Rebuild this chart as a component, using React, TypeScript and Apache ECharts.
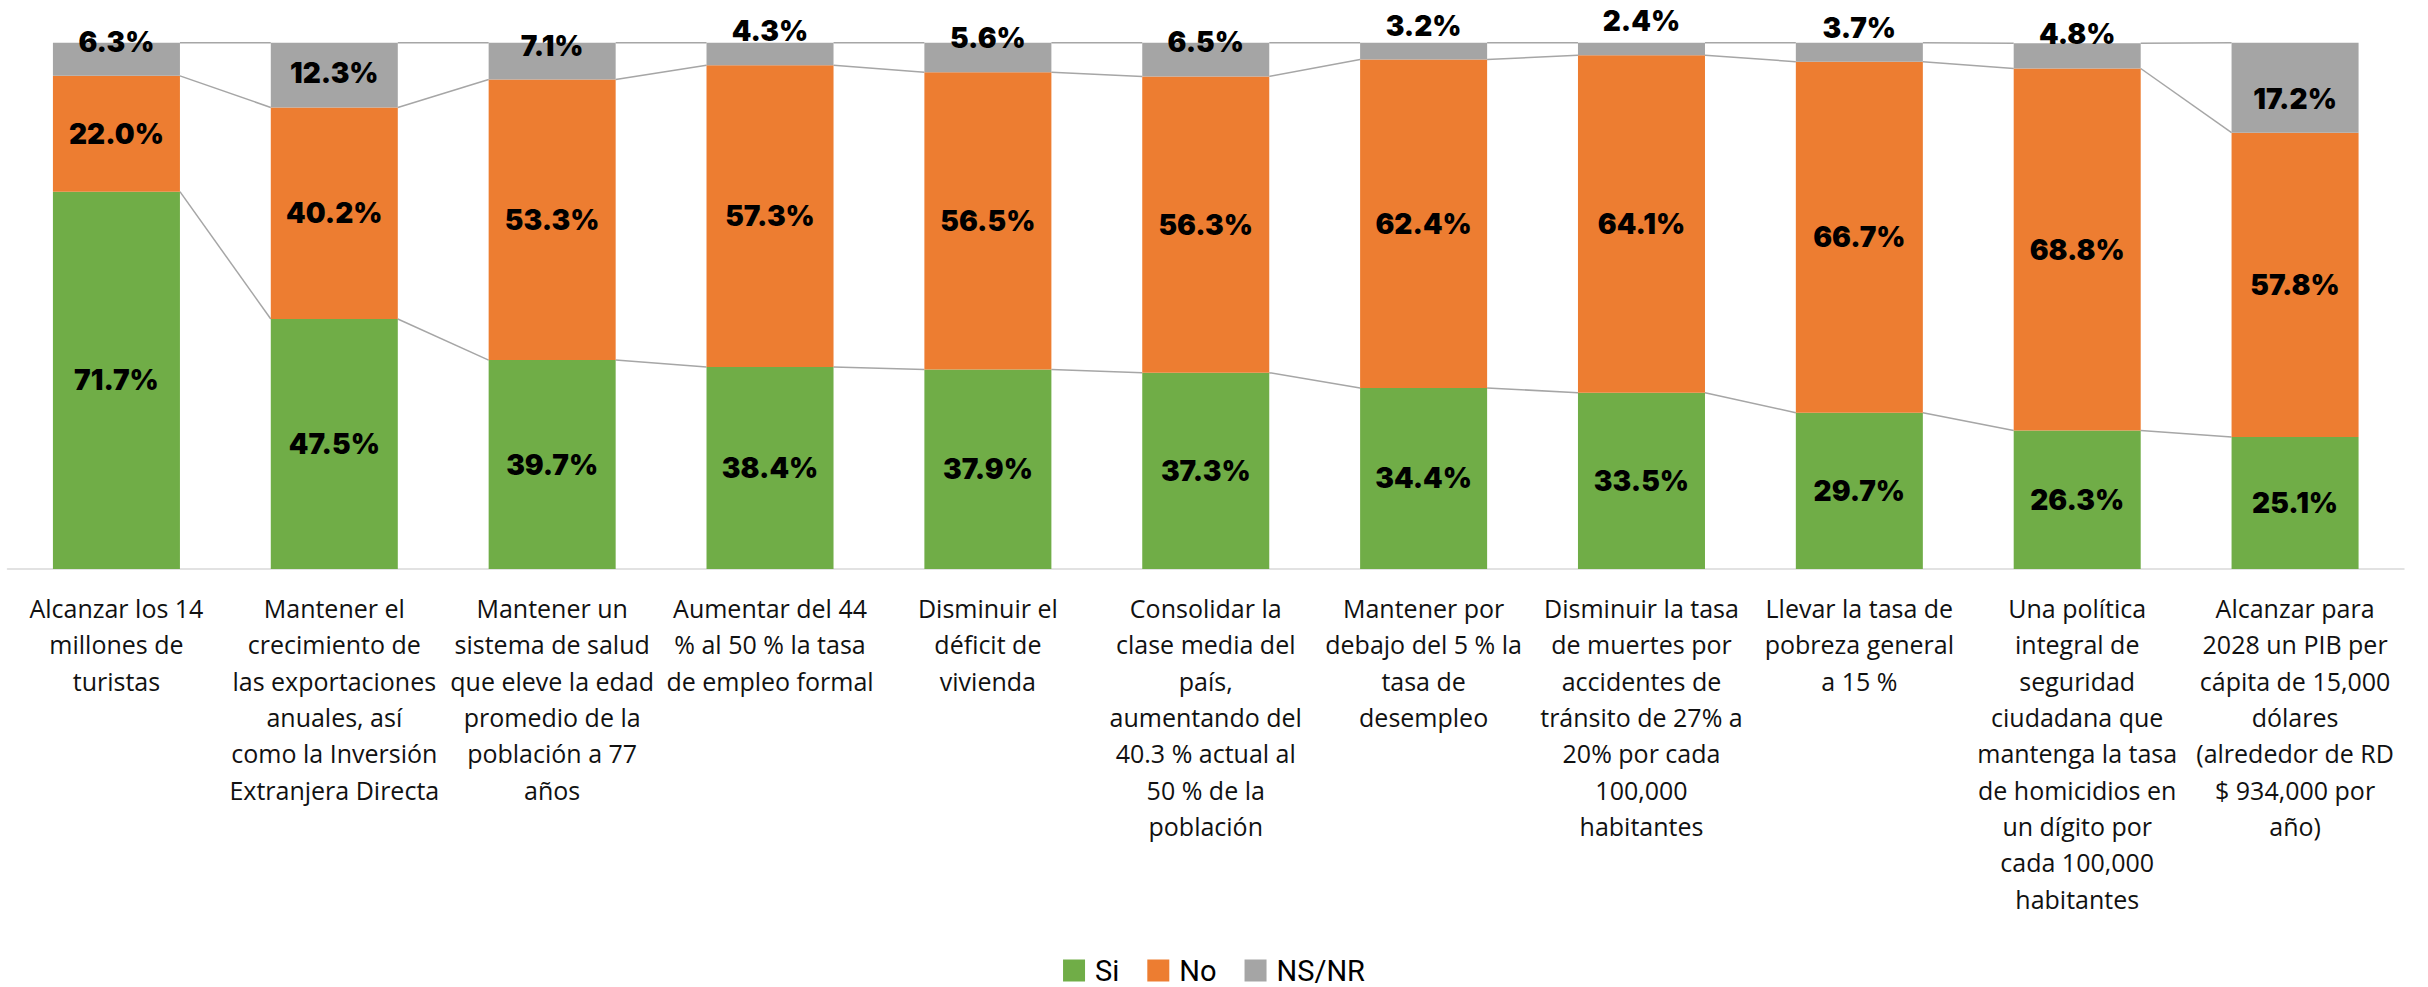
import React, { useEffect, useRef } from "react";
import * as echarts from "echarts";

const categories: string[] = [
  "Alcanzar los 14\nmillones de\nturistas",
  "Mantener el\ncrecimiento de\nlas exportaciones\nanuales, así\ncomo la Inversión\nExtranjera Directa",
  "Mantener un\nsistema de salud\nque eleve la edad\npromedio de la\npoblación a 77\naños",
  "Aumentar del 44\n% al 50 % la tasa\nde empleo formal",
  "Disminuir el\ndéficit de\nvivienda",
  "Consolidar la\nclase media del\npaís,\naumentando del\n40.3 % actual al\n50 % de la\npoblación",
  "Mantener por\ndebajo del 5 % la\ntasa de\ndesempleo",
  "Disminuir la tasa\nde muertes por\naccidentes de\ntránsito de 27% a\n20% por cada\n100,000\nhabitantes",
  "Llevar la tasa de\npobreza general\na 15 %",
  "Una política\nintegral de\nseguridad\nciudadana que\nmantenga la tasa\nde homicidios en\nun dígito por\ncada 100,000\nhabitantes",
  "Alcanzar para\n2028 un PIB per\ncápita de 15,000\ndólares\n(alrededor de RD\n$ 934,000 por\naño)",
];

const si: number[] = [71.7, 47.5, 39.7, 38.4, 37.9, 37.3, 34.4, 33.5, 29.7, 26.3, 25.1];
const no: number[] = [22.0, 40.2, 53.3, 57.3, 56.5, 56.3, 62.4, 64.1, 66.7, 68.8, 57.8];
const nsnr: number[] = [6.3, 12.3, 7.1, 4.3, 5.6, 6.5, 3.2, 2.4, 3.7, 4.8, 17.2];

const seriesNames: string[] = ["Si", "No", "NS/NR"];

const BAR_FRAC = 0.583;

export default function App() {
  const ref = useRef<HTMLDivElement>(null);

  useEffect(() => {
    document.body.style.margin = "0";
    if (!ref.current) return;
    const chart = echarts.init(ref.current, null, { renderer: "svg" });

    const connData: number[][] = [];
    for (let i = 0; i < categories.length - 1; i++) {
      connData.push([
        i,
        si[i],
        si[i] + no[i],
        Math.min(100, si[i] + no[i] + nsnr[i]),
        si[i + 1],
        si[i + 1] + no[i + 1],
        Math.min(100, si[i + 1] + no[i + 1] + nsnr[i + 1]),
      ]);
    }

    const labelFont = {
      fontFamily: "Inter, 'Open Sans', sans-serif",
      fontWeight: 900 as any,
      fontSize: 28,
      color: "#000",
    };

    const fmt = (p: any) => `${Number(p.value).toFixed(1)}%`;

    chart.setOption({
      animation: false,
      grid: { left: 7.5, right: 24, top: 42.7, bottom: 418, containLabel: false },
      legend: {
        data: seriesNames,
        left: "center",
        top: 951,
        icon: "rect",
        itemWidth: 22,
        itemHeight: 22,
        itemGap: 28,
        textStyle: {
          fontFamily: "Roboto, 'Liberation Sans', sans-serif",
          fontSize: 29,
          color: "#000",
          padding: [0, 0, 0, 5],
          lineHeight: 24,
        },
      },
      xAxis: {
        type: "category",
        data: categories,
        axisTick: { show: false },
        axisLine: { show: true, lineStyle: { color: "#d9d9d9", width: 1.5 } },
        axisLabel: {
          interval: 0,
          margin: 21,
          fontFamily: "'Open Sans', Inter, sans-serif",
          fontSize: 25,
          lineHeight: 36.3,
          color: "#111",
          align: "center",
        },
      },
      yAxis: {
        type: "value",
        min: 0,
        max: 100,
        show: false,
        splitLine: { show: false },
      },
      series: [
        {
          name: "Si",
          type: "bar",
          stack: "total",
          barWidth: `${BAR_FRAC * 100}%`,
          data: si,
          itemStyle: { color: "#70AD47" },
          label: { show: true, position: "inside", formatter: fmt, ...labelFont },
        },
        {
          name: "No",
          type: "bar",
          stack: "total",
          data: no,
          itemStyle: { color: "#ED7D31" },
          label: { show: true, position: "inside", formatter: fmt, ...labelFont },
        },
        {
          name: "NS/NR",
          type: "bar",
          stack: "total",
          data: nsnr,
          itemStyle: { color: "#A5A5A5" },
          label: {
            show: true,
            position: "insideBottom",
            distance: 19,
            lineHeight: 30,
            formatter: fmt,
            ...labelFont,
          },
        },
        {
          type: "custom",
          silent: true,
          z: 1,
          data: connData,
          encode: { x: 0, y: 1 },
          renderItem: (params: any, api: any) => {
            const i = api.value(0);
            const half = (api.size([1, 0])[0] * BAR_FRAC) / 2;
            const children: any[] = [];
            for (let k = 1; k <= 3; k++) {
              const a = api.coord([i, api.value(k)]);
              const b = api.coord([i + 1, api.value(k + 3)]);
              children.push({
                type: "line",
                shape: { x1: a[0] + half, y1: a[1], x2: b[0] - half, y2: b[1] },
                style: { stroke: "#a6a6a6", lineWidth: 1.5 },
              });
            }
            return { type: "group", children };
          },
        },
      ],
    });

    return () => {
      chart.dispose();
    };
  }, []);

  return <div ref={ref} style={{ width: 2428, height: 987 }} />;
}
